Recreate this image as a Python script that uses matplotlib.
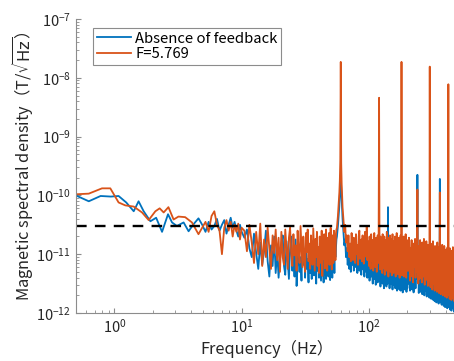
import numpy as np
import matplotlib
matplotlib.use('Agg')
import matplotlib.pyplot as plt
from matplotlib.ticker import LogLocator, NullFormatter

plt.rcParams['font.family'] = ['Noto Sans CJK JP', 'DejaVu Sans']

# spectra are stored as 100*log10(T/sqrt(Hz))
# "off" = absence of feedback (blue), "fb" = F=5.769 (orange)

# low band, 0.5-4.6 Hz
f_low_off = [0.51, 0.63, 0.78, 0.94, 1.08, 1.24, 1.42, 1.55, 1.70, 1.92,
             2.13, 2.37, 2.64, 2.84, 3.10, 3.50, 3.83, 4.19, 4.58]
v_low_off = [-1001, -1010, -1001, -1002, -1001, -1012, -1027, -1010, -1027, -1044,
             -1038, -1062, -1032, -1046, -1052, -1046, -1061, -1049, -1039]
f_low_fb = [0.51, 0.63, 0.80, 0.93, 1.08, 1.22, 1.42, 1.65, 1.86, 2.10,
            2.27, 2.44, 2.66, 2.92, 3.19, 3.60, 4.07, 4.58]
v_low_fb = [-998, -997, -988, -988, -1012, -1017, -1019, -1029, -1042, -1027,
            -1022, -1029, -1020, -1041, -1036, -1037, -1046, -1066]

# 4.9-10 Hz
f_mid = [4.9, 5.2, 5.5, 5.8, 6.1, 6.4, 6.7, 7.0, 7.3, 7.6, 7.9, 8.2, 8.5, 8.8, 9.1, 9.4, 9.7, 10.0]
v_mid_off = [-1050, -1062, -1045, -1058, -1052, -1040, -1060, -1050, -1042, -1065,
             -1050, -1038, -1055, -1045, -1060, -1070, -1050, -1062]
v_mid_fb = [-1055, -1045, -1062, -1035, -1027, -1050, -1060, -1100, -1055, -1042,
            -1060, -1045, -1070, -1050, -1062, -1048, -1075, -1055]

# 10.5-20 Hz (0.5 Hz bins)
f_c1 = np.arange(10.5, 20.01, 0.5)
v_c1_off = [-1072, -1058, -1090, -1105, -1065, -1098, -1125, -1080, -1118, -1095,
            -1060, -1112, -1138, -1085, -1120, -1070, -1132, -1095, -1140, -1105]
v_c1_fb = [-1060, -1095, -1050, -1080, -1115, -1062, -1100, -1048, -1120, -1075,
           -1105, -1055, -1090, -1125, -1068, -1098, -1058, -1110, -1072, -1130]

# 20.5-55.5 Hz (0.5 Hz bins)
f_c2 = np.arange(20.5, 55.6, 0.5)
v_c2_off = [-1085, -1068, -1120, -1135, -1078, -1110, -1142, -1092, -1070, -1128,
            -1100, -1138, -1075, -1154, -1115, -1088, -1130, -1105, -1145, -1080,
            -1118, -1095, -1140, -1072, -1125, -1108, -1148, -1085, -1132, -1098,
            -1142, -1078, -1120, -1136, -1090, -1112, -1150, -1082, -1128, -1104,
            -1140, -1095, -1122, -1145, -1088, -1130, -1110, -1148, -1092, -1135,
            -1115, -1142, -1085, -1125, -1100, -1138, -1090, -1120, -1144, -1096,
            -1130, -1105, -1140, -1088, -1118, -1095, -1132, -1080, -1105, -1090,
            -1075]
v_c2_fb = [-1062, -1105, -1118, -1058, -1090, -1125, -1072, -1055, -1098, -1120,
           -1066, -1102, -1085, -1128, -1060, -1095, -1115, -1052, -1088, -1122,
           -1070, -1108, -1130, -1064, -1096, -1058, -1112, -1082, -1125, -1068,
           -1100, -1118, -1056, -1092, -1128, -1074, -1105, -1062, -1120, -1088,
           -1132, -1070, -1098, -1115, -1060, -1137, -1084, -1108, -1066, -1124,
           -1090, -1058, -1112, -1128, -1072, -1100, -1064, -1118, -1086, -1055,
           -1104, -1126, -1068, -1094, -1115, -1060, -1098, -1078, -1110, -1065,
           -1058]

# around the 60 Hz line
f_d = [56, 57, 58, 58.5, 59, 59.5, 60, 60.5, 61, 61.5, 62, 63, 64, 65, 66, 67, 68]
v_d_off = [-1070, -1052, -1030, -1018, -1000, -985, -965, -988, -1005, -1022,
           -1040, -1062, -1085, -1075, -1105, -1090, -1118]
v_d_fb = [-1055, -1035, -1010, -995, -975, -940, -773, -945, -980, -1000,
          -1020, -1040, -1062, -1050, -1080, -1068, -1095]

# 69-200 Hz (1 Hz bins)
f_e1 = np.arange(69, 200.5, 1.0)
v_e1_off = [-1098, -1125, -1088, -1130, -1105, -1118, -1092, -1128, -1110, -1084,
            -1122, -1100, -1132, -1090, -1115, -1128, -1096, -1120, -1135, -1102,
            -1088, -1126, -1110, -1138, -1094, -1118, -1130, -1100, -1140, -1112,
            -1125, -1092, -1145, -1108, -1120, -1138, -1098, -1130, -1150, -1112,
            -1095, -1142, -1118, -1128, -1152, -1104, -1136, -1115, -1148, -1100,
            -1130, -1095, -1145, -1112, -1155, -1120, -1102, -1140, -1125, -1150,
            -1108, -1138, -1158, -1115, -1130, -1098, -1146, -1122, -1155, -1110,
            -1135, -1150, -1020, -1128, -1145, -1105, -1158, -1120, -1138, -1112,
            -1150, -1126, -1100, -1142, -1160, -1118, -1135, -1108, -1152, -1128,
            -1140, -1115, -1158, -1102, -1136, -1148, -1120, -1162, -1110, -1142,
            -1128, -1155, -1105, -1138, -1160, -1118, -1145, -1125, -1162, -1112,
            -1140, -1080, -1152, -1122, -1135, -1165, -1108, -1148, -1130, -1158,
            -1115, -1142, -1160, -1125, -1138, -1110, -1155, -1132, -1164, -1120,
            -1145, -1158]
v_e1_fb = [-1068, -1105, -1082, -1112, -1064, -1096, -1110, -1072, -1090, -1115,
           -1066, -1100, -1085, -1118, -1070, -1060, -1108, -1092, -1075, -1112,
           -1068, -1098, -1116, -1080, -1062, -1104, -1088, -1052, -1110, -1078,
           -1094, -1120, -1070, -1102, -1125, -1066, -1088, -1112, -1076, -1128,
           -1082, -1064, -1106, -1122, -1090, -1072, -1130, -1098, -1068, -1115,
           -1084, -834, -1102, -1126, -1070, -1094, -1118, -1080, -1132, -1066,
           -1100, -1124, -1088, -1070, -1135, -1092, -1112, -1076, -1128, -1062,
           -1105, -1120, -1084, -1138, -1072, -1096, -1116, -1068, -1130, -1090,
           -1110, -1074, -1136, -1098, -1066, -1122, -1086, -1132, -1078, -1104,
           -1126, -1070, -1094, -1138, -1082, -1114, -1064, -1128, -1100, -1076,
           -1134, -1090, -1118, -1072, -1106, -1140, -1084, -1124, -1068, -1098,
           -1130, -773, -1110, -1136, -1078, -1102, -1126, -1088, -1070, -1138,
           -1094, -1116, -1074, -1132, -1100, -1066, -1122, -1140, -1086, -1108,
           -1076, -1128]

# 202-498 Hz (2 Hz bins)
f_e2 = np.arange(202, 498.5, 2.0)
v_e2_off = [-1120, -1150, -1105, -1138, -1162, -1115, -1145, -1128, -1160, -1110,
            -1140, -1165, -1118, -1150, -1125, -1158, -1106, -1142, -1135, -965,
            -1148, -1122, -1166, -1110, -1152, -1136, -1164, -1118, -1146, -1130,
            -1168, -1112, -1155, -1140, -1126, -1170, -1108, -1150, -1162, -1132,
            -1145, -1172, -1116, -1158, -1138, -1168, -1120, -1152, -1174, -1090,
            -1142, -1165, -1124, -1176, -1148, -1130, -1170, -1115, -1158, -1178,
            -1136, -1162, -1120, -1180, -1150, -1128, -1172, -1140, -1182, -1125,
            -1160, -1145, -1178, -1118, -1166, -1184, -1134, -1155, -1170, -972,
            -1150, -1182, -1128, -1168, -1144, -1186, -1122, -1162, -1176, -1138,
            -1172, -1152, -1188, -1130, -1166, -1180, -1140, -1190, -1158, -1126,
            -1178, -1148, -1186, -1136, -1170, -1192, -1144, -1164, -1184, -1100,
            -1160, -1190, -1138, -1176, -1154, -1194, -1132, -1172, -1186, -1148,
            -1166, -1196, -1140, -1180, -1158, -1192, -1135, -1174, -1188, -1150,
            -1182, -1162, -1198, -1142, -1176, -1190, -1155, -1185, -1168, -1196,
            -1146, -1180, -1192, -1160, -1186, -1172, -1198, -1152, -1188]
v_e2_fb = [-1085, -1128, -1072, -1110, -1145, -1090, -1118, -1076, -1138, -1100,
           -1148, -1082, -1122, -1104, -1074, -1140, -1095, -1130, -1078, -990,
           -1112, -1150, -1086, -1120, -1142, -1076, -1106, -1134, -1092, -1148,
           -1080, -1116, -1138, -1098, -1074, -1126, -1152, -1088, -1110, -1144,
           -1078, -1102, -1136, -1118, -1154, -1084, -1128, -1096, -1146, -781,
           -1108, -1156, -1082, -1124, -1140, -1094, -1160, -1112, -1078, -1134,
           -1150, -1100, -1120, -1162, -1086, -1138, -1106, -1158, -1092, -1128,
           -1164, -1080, -1116, -1146, -1098, -1132, -1166, -1088, -1122, -995,
           -1152, -1104, -1168, -1090, -1136, -1118, -1160, -1084, -1128, -1170,
           -1096, -1142, -1112, -1166, -1086, -1150, -1124, -1172, -1100, -1138,
           -1162, -1092, -1130, -1174, -1108, -1148, -1088, -1158, -1120, -811,
           -1170, -1098, -1140, -1116, -1176, -1090, -1154, -1128, -1168, -1104,
           -1146, -1178, -1094, -1132, -1160, -1112, -1174, -1088, -1150, -1122,
           -1170, -1100, -1142, -1180, -1116, -1158, -1092, -1176, -1130, -1164,
           -1106, -1148, -1182, -1096, -1138, -1172, -1120, -1160, -1178]

threshold = 3e-11

# stitch the pieces together
f_off = np.concatenate([f_low_off, f_mid, f_c1, f_c2, f_d, f_e1, f_e2])
s_off = 10 ** (np.concatenate([v_low_off, v_mid_off, v_c1_off, v_c2_off,
                               v_d_off, v_e1_off, v_e2_off]) / 100.)
f_fb = np.concatenate([f_low_fb, f_mid, f_c1, f_c2, f_d, f_e1, f_e2])
s_fb = 10 ** (np.concatenate([v_low_fb, v_mid_fb, v_c1_fb, v_c2_fb,
                              v_d_fb, v_e1_fb, v_e2_fb]) / 100.)

fig = plt.figure(figsize=(4.54, 3.61), dpi=100)
ax = fig.add_axes([76 / 454, 1 - 313 / 361, 382 / 454, 294 / 361])

ax.plot(f_off, s_off, color='#0072BD', lw=1.3, label='Absence of feedback')
ax.plot(f_fb, s_fb, color='#D95319', lw=1.3, label='F=5.769')
ax.axhline(threshold, color='k', lw=1.7, ls=(0, (4.5, 3.5)))

ax.set_xscale('log')
ax.set_yscale('log')
ax.set_xlim(0.5, 500)
ax.set_ylim(1e-12, 1e-7)
ax.yaxis.set_major_locator(LogLocator(base=10, numticks=10))
ax.yaxis.set_minor_locator(LogLocator(base=10, subs=np.arange(2, 10), numticks=20))
ax.yaxis.set_minor_formatter(NullFormatter())

for side in ['top', 'right']:
    ax.spines[side].set_visible(False)
for side in ['left', 'bottom']:
    ax.spines[side].set_color('#8c8c8c')
    ax.spines[side].set_linewidth(0.8)
ax.tick_params(which='both', direction='in', color='#8c8c8c', labelcolor='#262626', labelsize=10.5)
ax.tick_params(which='major', length=3.5)
ax.tick_params(which='minor', length=2)

ax.set_xlabel('Frequency（Hz）', fontsize=11.8, color='#262626', labelpad=3)
ax.set_ylabel(r'Magnetic spectral density（T/$\sqrt{\mathrm{Hz}}$）', fontsize=11.8,
              color='#262626', labelpad=0)

leg = ax.legend(loc='upper left', bbox_to_anchor=(0.044, 0.97), borderaxespad=0,
                fancybox=False, framealpha=1, edgecolor='#8c8c8c', fontsize=10.7,
                handlelength=2.3, handletextpad=0.3, labelspacing=0.1, borderpad=0.25)
leg.get_frame().set_linewidth(0.8)

fig.savefig('out.png', dpi=100)
